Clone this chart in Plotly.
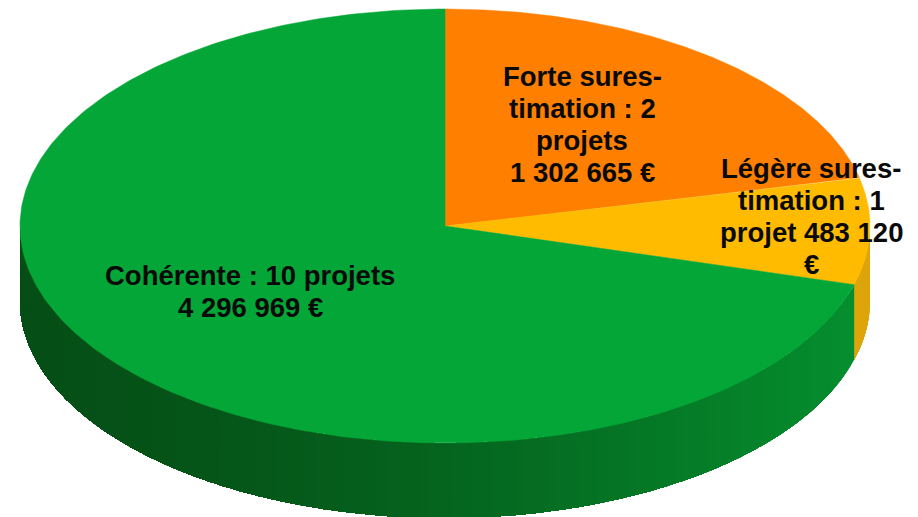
import numpy as np
import plotly.graph_objects as go

categories = ["Forte surestimation", "Légère surestimation", "Cohérente"]
amounts = [1302665, 483120, 4296969]
labels = [
    ["Forte sures-", "timation : 2", "projets", "1 302 665 €"],
    ["Légère sures-", "timation : 1", "projet 483 120", "€"],
    ["Cohérente : 10 projets", "4 296 969 €"],
]
top_colors = ["#FF8000", "#FFBB00", "#03A637"]
side_left = ["#B87A00", "#C8930A", "#054F16"]
side_right = ["#B87A00", "#DDA50A", "#05902F"]
label_pos = [(582, 124), (811, 216), (250, 291)]

W, H = 918, 517
cx, cy, rx, ry, depth = 445, 226, 425, 217, 75
line_step = 32


def ell(theta, dz=0.0):
    return cx + rx * np.sin(theta), cy - ry * np.cos(theta) + dz


def mix(c1, c2, t):
    a = [int(c1[i:i + 2], 16) for i in (1, 3, 5)]
    b = [int(c2[i:i + 2], 16) for i in (1, 3, 5)]
    return "rgb(%d,%d,%d)" % tuple(round(p + (q - p) * t) for p, q in zip(a, b))


edges = np.concatenate([[0], np.cumsum(amounts)]) / sum(amounts) * 2 * np.pi
fig = go.Figure()

# extruded rim: painted in overlapping layers so no seams appear between shades
for i in range(len(amounts)):
    a0, a1 = max(edges[i], np.pi / 2), min(edges[i + 1], 3 * np.pi / 2)
    if a1 <= a0:
        continue
    n = max(2, int((a1 - a0) / 0.025))
    th = np.linspace(a0, a1, n + 1)
    full = np.linspace(a0, a1, 240)
    for j in range(n):
        seg = np.r_[th[j], full[full > th[j]]]
        x1, y1 = ell(seg)
        x2, y2 = ell(seg[::-1], depth)
        xm = (ell(th[j])[0] - (cx - rx)) / (2 * rx)
        col = mix(side_left[i], side_right[i], min(1, max(0, xm)) ** 1.6)
        fig.add_trace(go.Scatter(
            x=np.r_[x1, x2, x1[0]], y=np.r_[y1, y2, y1[0]], mode="none",
            fill="toself", fillcolor=col, hoverinfo="skip", showlegend=False))

# top face
for i, cat in enumerate(categories):
    th = np.linspace(edges[i], edges[i + 1], 300)
    x, y = ell(th)
    fig.add_trace(go.Scatter(
        x=np.r_[cx, x, cx], y=np.r_[cy, y, cy], mode="lines", fill="toself",
        fillcolor=top_colors[i], line=dict(color=top_colors[i], width=0.5),
        name=cat, hoverinfo="name", showlegend=False))

for lines, (lx, ly) in zip(labels, label_pos):
    for k, text in enumerate(lines):
        fig.add_annotation(x=lx, y=ly + (k - (len(lines) - 1) / 2) * line_step,
                           text="<b>%s</b>" % text, showarrow=False,
                           xanchor="center", yanchor="middle", align="center",
                           font=dict(family="Liberation Sans, Arial, sans-serif",
                                     size=27.5, color="#0A0A0A"))

fig.update_layout(
    width=W, height=H, margin=dict(l=0, r=0, t=0, b=0),
    paper_bgcolor="white", plot_bgcolor="white", showlegend=False,
    xaxis=dict(range=[0, W], visible=False, fixedrange=True),
    yaxis=dict(range=[H, 0], visible=False, fixedrange=True),
)
fig.write_html("out.html", config=dict(displayModeBar=False),
               post_script="document.body.style.margin='0';document.documentElement.style.overflow='hidden';")
